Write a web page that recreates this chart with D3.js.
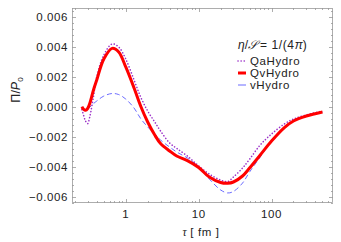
<!DOCTYPE html>
<html>
<head>
<meta charset="utf-8">
<script src="https://cdn.jsdelivr.net/npm/d3@7"></script>
<style>
  body { margin: 0; background: #fff; }
  text { font-family: "Liberation Sans", Arial, sans-serif; }
</style>
</head>
<body>
<div id="chart"></div>
<script>
// proper time grid (fm) shared by all three curves
var tau = [0.25, 0.265, 0.28, 0.3, 0.32, 0.36, 0.4, 0.5, 0.65, 0.8, 1, 1.3, 1.6, 2, 2.5, 3, 4, 5, 7, 10, 14, 20, 25, 30, 40, 50, 70, 100, 150, 200, 300, 500];
var qaHydro = [-0.0002, -0.0006, -0.00095, -0.00113, -0.0007, 0.00065, 0.002, 0.00345, 0.00418, 0.00398, 0.00318, 0.00178, 0.00065, -0.00029, -0.00102, -0.00162, -0.00242, -0.00278, -0.00329, -0.00395, -0.00449, -0.00489, -0.00499, -0.00469, -0.00409, -0.0035, -0.00255, -0.00182, -0.00115, -0.00082, -0.00055, -0.00029];
var qvHydro = [0, -0.00018, -0.00024, -0.00012, 0.0002, 0.0011, 0.00178, 0.00318, 0.00389, 0.00365, 0.00265, 0.00125, 0.00005, -0.00102, -0.00189, -0.00245, -0.00295, -0.00329, -0.00359, -0.00405, -0.00469, -0.00505, -0.0051, -0.00502, -0.00462, -0.00409, -0.00322, -0.00229, -0.00139, -0.00095, -0.00062, -0.00035];
var vHydro = [0, -0.00018, -0.00024, -0.00016, -0.00004, 0.0002, 0.00038, 0.00071, 0.00088, 0.00081, 0.00051, -0.00009, -0.00079, -0.00135, -0.00182, -0.00222, -0.00269, -0.00302, -0.00342, -0.00402, -0.00482, -0.00555, -0.00575, -0.00565, -0.00509, -0.00435, -0.00335, -0.00229, -0.00135, -0.00095, -0.00062, -0.00035];
var yTicks = [-0.006, -0.004, -0.002, 0, 0.002, 0.004, 0.006];
var xTicks = [1, 10, 100];
var seriesNames = ["QaHydro", "QvHydro", "vHydro"];

var w = 341, h = 242;
var mLeft = 72, mTop = 8, mRight = 333, mBottom = 203;

var svg = d3.select("#chart").append("svg").attr("width", w).attr("height", h);

var x = d3.scaleLog().domain([0.183, 697]).range([mLeft, mRight]);
var y = d3.scaleLinear().domain([-0.00642, 0.00658]).range([mBottom, mTop]);

var frameColor = "#999";

// minor + major ticks, drawn inward on all four sides
var yMinor = d3.range(-0.0064, 0.0066, 0.0004);
var xMinor = [];
[0.1, 1, 10, 100].forEach(function (d) {
    for (var k = 1; k < 10; k++) {
        var v = d * k;
        if (v >= 0.183 && v <= 697) xMinor.push(v);
    }
});

var ticks = svg.append("g").attr("stroke", frameColor).attr("stroke-width", 0.8);
yMinor.forEach(function (v) {
    var major = yTicks.some(function (t) { return Math.abs(t - v) < 1e-7; });
    var len = major ? 4 : 2;
    var yy = Math.round(y(v)) + 0.5;
    ticks.append("line").attr("x1", mLeft).attr("x2", mLeft + len).attr("y1", yy).attr("y2", yy);
    ticks.append("line").attr("x1", mRight).attr("x2", mRight - len).attr("y1", yy).attr("y2", yy);
});
xMinor.forEach(function (v) {
    var major = xTicks.some(function (t) { return Math.abs(t - v) < 1e-9; });
    var len = major ? 4 : 2;
    var xx = Math.round(x(v)) + 0.5;
    ticks.append("line").attr("x1", xx).attr("x2", xx).attr("y1", mBottom).attr("y2", mBottom - len);
    ticks.append("line").attr("x1", xx).attr("x2", xx).attr("y1", mTop).attr("y2", mTop + len);
});

svg.append("rect").attr("x", mLeft + 0.5).attr("y", mTop + 0.5)
    .attr("width", mRight - mLeft - 1).attr("height", mBottom - mTop - 1)
    .attr("fill", "none").attr("stroke", frameColor).attr("stroke-width", 0.8);

// tick labels
svg.append("g").selectAll("text").data(yTicks).enter().append("text")
    .attr("x", mLeft - 4).attr("y", function (d) { return y(d) + 4; })
    .attr("text-anchor", "end").attr("font-size", 11.5).attr("letter-spacing", 0.6)
    .attr("fill", "#222")
    .text(function (d) { return (d < 0 ? "\u2212" : "") + Math.abs(d).toFixed(3); });

svg.append("g").selectAll("text").data(xTicks).enter().append("text")
    .attr("x", function (d) { return x(d); }).attr("y", 218)
    .attr("text-anchor", "middle").attr("font-size", 11.5).attr("letter-spacing", 0.6)
    .attr("fill", "#222")
    .text(function (d) { return d; });

// axis titles
var xt = svg.append("text").attr("x", 201).attr("y", 236).attr("text-anchor", "middle")
    .attr("font-size", 11.5).attr("fill", "#222");
xt.append("tspan").attr("font-family", "Liberation Serif, serif").attr("font-style", "italic").text("τ");
xt.append("tspan").attr("letter-spacing", 0.6).text("  [ fm ]");

var yt = svg.append("text").attr("transform", "translate(20,90) rotate(-90)")
    .attr("text-anchor", "middle").attr("font-size", 12.5).attr("fill", "#222")
    .attr("font-family", "Liberation Serif, serif");
yt.append("tspan").text("Π/");
yt.append("tspan").attr("font-style", "italic").text("P");
yt.append("tspan").attr("font-size", 8).attr("dy", 3).text("0");

// curves
var line = d3.line()
    .x(function (d) { return x(d[0]); })
    .y(function (d) { return y(d[1]); })
    .curve(d3.curveCatmullRom.alpha(0.5));

function pairs(vals) { return tau.map(function (t, i) { return [t, vals[i]]; }); }

var styles = [
    { data: qaHydro, color: "#9b30c8", width: 1.6, dash: "0.1 3", cap: "round" },
    { data: qvHydro, color: "#ff0000", width: 3, dash: null, cap: "butt" },
    { data: vHydro, color: "#5a5aff", width: 0.9, dash: "5 3", cap: "butt" }
];

var plot = svg.append("g");
[2, 0, 1].forEach(function (i) {
    var s = styles[i];
    plot.append("path").attr("d", line(pairs(s.data)))
        .attr("fill", "none").attr("stroke", s.color).attr("stroke-width", s.width)
        .attr("stroke-linecap", s.cap)
        .attr("stroke-dasharray", s.dash);
});

// legend
var lt = svg.append("text").attr("x", 238).attr("y", 49).attr("font-size", 12)
    .attr("font-family", "Liberation Serif, serif").attr("fill", "#222");
lt.append("tspan").attr("font-style", "italic").text("η");
lt.append("tspan").text("/");
lt.append("tspan").attr("font-style", "italic").text("𝒮");
lt.append("tspan").attr("dx", 3).attr("letter-spacing", 0.6).text("= 1/(4");
lt.append("tspan").attr("font-style", "italic").text("π");
lt.append("tspan").text(")");

var lg = svg.append("g").selectAll("g").data(seriesNames).enter().append("g")
    .attr("transform", function (d, i) { return "translate(238," + (61 + i * 12) + ")"; });
lg.append("line").attr("x1", 0).attr("x2", 8).attr("y1", 0).attr("y2", 0)
    .attr("stroke", function (d, i) { return styles[i].color; })
    .attr("stroke-width", function (d, i) { return styles[i].width; })
    .attr("stroke-linecap", function (d, i) { return styles[i].cap; })
    .attr("stroke-dasharray", function (d, i) { return i == 0 ? "0.1 3" : null; });
lg.append("text").attr("x", 12).attr("y", 4).attr("font-size", 11.5).attr("letter-spacing", 0.6)
    .attr("fill", "#222").text(function (d) { return d; });
</script>
</body>
</html>
